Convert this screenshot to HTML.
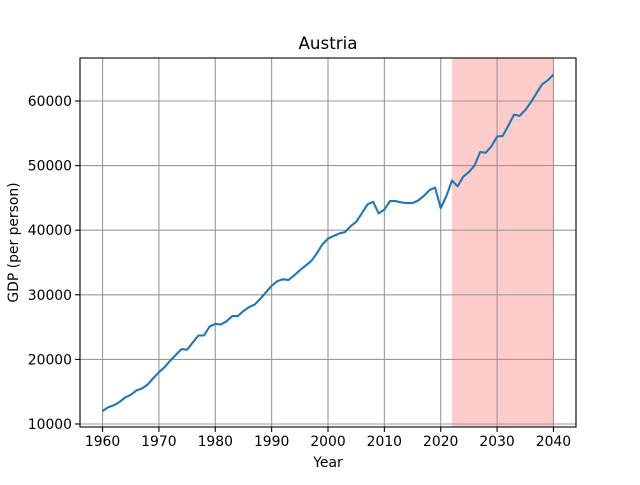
<!DOCTYPE html>
<html><head><meta charset="utf-8"><style>
body{margin:0;background:#fff;}
svg text{font-family:"DejaVu Sans","Liberation Sans",sans-serif;}
</style></head><body>
<svg id="chart" width="640" height="480" xmlns="http://www.w3.org/2000/svg"></svg>
<script>
const years=[];for(let y=1960;y<=2040;y++)years.push(y);
const gdp=[12000,12600,12900,13400,14100,14500,15200,15500,16100,17100,18000,18800,19800,20700,21600,21500,22600,23700,23700,25100,25500,25400,25900,26700,26700,27500,28100,28500,29400,30400,31400,32100,32400,32300,33000,33800,34500,35200,36400,37800,38700,39100,39500,39700,40600,41300,42600,44000,44400,42600,43200,44500,44500,44300,44200,44200,44600,45300,46200,46600,43400,45300,47700,46800,48300,49000,50000,52100,52000,53000,54500,54600,56200,57900,57700,58600,59800,61200,62600,63200,64100];
const xTicks=[1960,1970,1980,1990,2000,2010,2020,2030,2040];
const yTicks=[10000,20000,30000,40000,50000,60000];
const forecastRange=[2022,2040];
const L=80,R=576,T=58,B=427;
const x0=1956,x1=2044,y0=9536,y1=66656;
const sx=v=>L+(v-x0)/(x1-x0)*(R-L);
const sy=v=>B-(v-y0)/(y1-y0)*(B-T);
const svg=document.getElementById('chart');const NS='http://www.w3.org/2000/svg';
function mk(t,a,p){const e=document.createElementNS(NS,t);for(const k in a)e.setAttribute(k,a[k]);(p||svg).appendChild(e);return e;}
let sh=mk('rect',{x:sx(forecastRange[0]),y:T,width:sx(forecastRange[1])-sx(forecastRange[0]),height:B-T,fill:'#ffcccc'});


xTicks.forEach(v=>{const X=sx(v);
 let g=mk('line',{x1:X,x2:X,y1:T,y2:B,stroke:'#999',"stroke-width":1.1});
 
 
 mk('line',{x1:X,x2:X,y1:B,y2:B+4.9,stroke:'#000',"stroke-width":1.1});
 let t=mk('text',{x:X,y:B+19,"text-anchor":"middle","font-size":13.9});t.textContent=v;
 
 
});
yTicks.forEach(v=>{const Y=sy(v);
 let g=mk('line',{x1:L,x2:R,y1:Y,y2:Y,stroke:'#999',"stroke-width":1.1});
 
 
 mk('line',{x1:L-4.9,x2:L,y1:Y,y2:Y,stroke:'#000',"stroke-width":1.1});
 let t=mk('text',{x:L-8,y:Y+5,"text-anchor":"end","font-size":13.9});t.textContent=v;
 
 
});
let d=years.map((y,i)=>(i?'L':'M')+sx(y).toFixed(1)+','+sy(gdp[i]).toFixed(1)).join('');
let ln=mk('path',{d:d,fill:'none',stroke:'#1f77b4',"stroke-width":2.1,"stroke-linejoin":"round"});


let fr=mk('rect',{x:L,y:T,width:R-L,height:B-T,fill:'none',stroke:'#000',"stroke-width":1.1});


let tt=mk('text',{x:(L+R)/2,y:49,"text-anchor":"middle","font-size":16.7});tt.textContent='Austria';


let xl=mk('text',{x:(L+R)/2,y:467,"text-anchor":"middle","font-size":13.9});xl.textContent='Year';


let yl=mk('text',{x:18,y:(T+B)/2,"text-anchor":"middle","font-size":13.9,transform:`rotate(-90 18 ${(T+B)/2})`});yl.textContent='GDP (per person)';


</script>
</body></html>
